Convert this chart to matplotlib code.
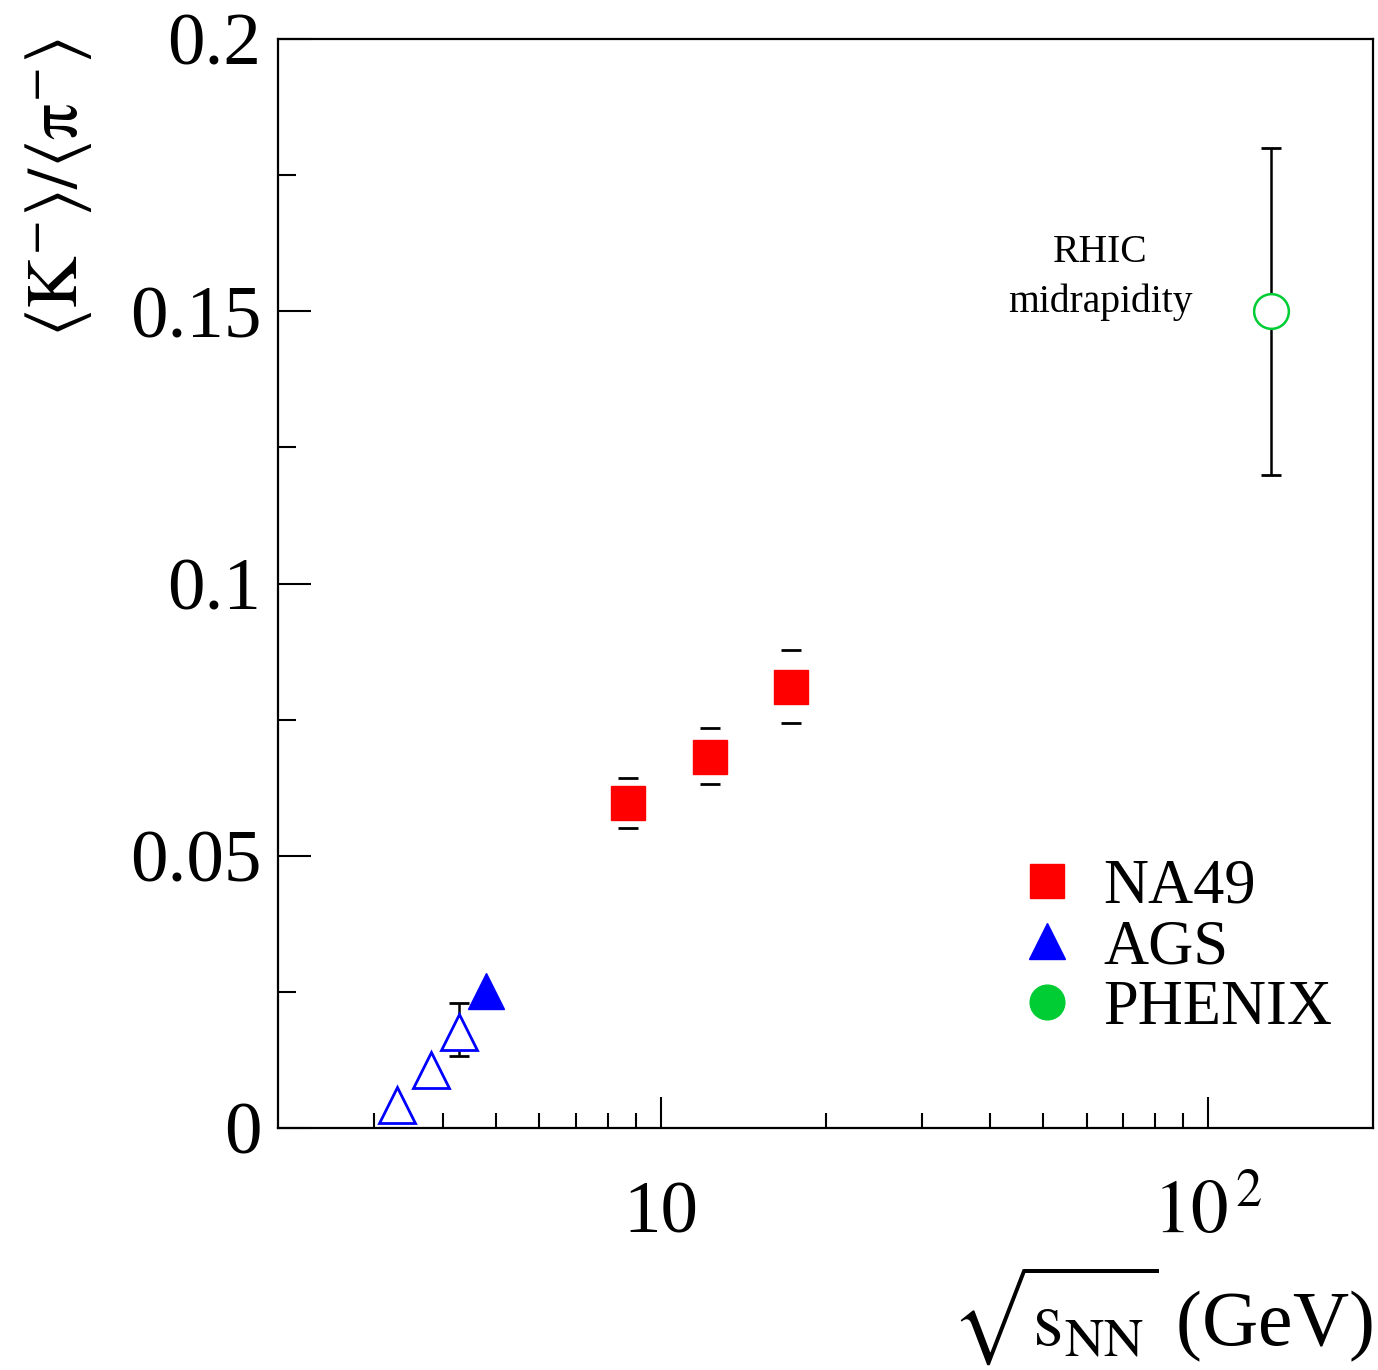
import matplotlib
matplotlib.use("Agg")
import matplotlib.pyplot as plt
from matplotlib.lines import Line2D
from matplotlib.ticker import FixedLocator, FixedFormatter, NullFormatter

plt.rcParams['font.family'] = ['Liberation Serif', 'DejaVu Serif']
plt.rcParams['mathtext.fontset'] = 'stix'

# NA49
na49_x = [8.7, 12.3, 17.3]
na49_y = [0.0597, 0.0681, 0.0810]
na49_lo = [0.0551, 0.0632, 0.0744]
na49_hi = [0.0643, 0.0735, 0.0878]

# AGS open
ags_open_x = [3.3, 3.8, 4.28]
ags_open_y = [0.0042, 0.0107, 0.0176]
ags_err_x = [4.28]
ags_err_y = [0.0176]
ags_err_lo = [0.0132]
ags_err_hi = [0.0230]

# AGS filled
ags_x = [4.8]
ags_y = [0.0252]

# PHENIX
phenix_x = [130.0]
phenix_y = [0.150]
phenix_lo = [0.120]
phenix_hi = [0.180]

legend_labels = ['NA49', 'AGS', 'PHENIX']
red = '#ff0000'
blue = '#0000ff'
green = '#00cc33'

fig = plt.figure(figsize=(13.78, 13.70), dpi=100)
ax = fig.add_axes([278/1378, 242/1370, 1095/1378, 1089/1370])

def yerr(y, lo, hi):
    return [[a - b for a, b in zip(y, lo)], [b - a for a, b in zip(y, hi)]]

# NA49 caps only
ax.errorbar(na49_x, na49_y, yerr=yerr(na49_y, na49_lo, na49_hi), fmt='none',
            ecolor='black', elinewidth=0, capsize=7.2, capthick=2.0, zorder=2)
ax.plot(na49_x, na49_y, 's', color=red, ms=25, mec=red, zorder=3)

ax.errorbar(ags_err_x, ags_err_y, yerr=yerr(ags_err_y, ags_err_lo, ags_err_hi), fmt='none',
            ecolor='black', elinewidth=1.8, capsize=7.2, capthick=2.0, zorder=2)
ax.plot(ags_open_x, ags_open_y, '^', mfc='white', mec=blue, mew=2.0, ms=26, zorder=3)
ax.plot(ags_x, ags_y, '^', color=blue, ms=26, zorder=3)

ax.errorbar(phenix_x, phenix_y, yerr=yerr(phenix_y, phenix_lo, phenix_hi), fmt='none',
            ecolor='black', elinewidth=1.8, capsize=7.2, capthick=2.0, zorder=2)
ax.plot(phenix_x, phenix_y, 'o', mfc='white', mec=green, mew=1.8, ms=25, zorder=3)

ax.text(63.5, 0.1562, 'RHIC\nmidrapidity', ha='center', va='center', fontsize=28.5,
        linespacing=1.45)

ax.set_xscale('log')
ax.set_xlim(2, 200)
ax.set_ylim(0, 0.2)

ax.xaxis.set_major_locator(FixedLocator([10, 100]))
ax.xaxis.set_major_formatter(FixedFormatter(['10', r'$10^{\,2}$']))
ax.xaxis.set_minor_locator(FixedLocator([3, 4, 5, 6, 7, 8, 9, 20, 30, 40, 50, 60, 70, 80, 90]))
ax.xaxis.set_minor_formatter(NullFormatter())
ax.yaxis.set_major_locator(FixedLocator([0, 0.05, 0.1, 0.15, 0.2]))
ax.yaxis.set_major_formatter(FixedFormatter(['0', '0.05', '0.1', '0.15', '0.2']))
ax.yaxis.set_minor_locator(FixedLocator([0.025, 0.075, 0.125, 0.175]))

ax.tick_params(axis='both', which='both', direction='in', top=False, right=False, width=1.5)
ax.tick_params(axis='x', which='major', length=22, labelsize=54, pad=38)
ax.tick_params(axis='x', which='minor', length=11)
ax.tick_params(axis='y', which='major', length=24, labelsize=54, pad=12)
ax.tick_params(axis='y', which='minor', length=13)
for s in ax.spines.values():
    s.set_linewidth(1.6)

ax.set_xlabel(r'$\sqrt{\mathrm{s}_{\mathrm{NN}}}$ (GeV)', fontsize=56, loc='right', labelpad=10)
ax.set_ylabel(r'$\langle\mathrm{K}^{-}\rangle/\langle\mathrm{\pi}^{-}\rangle$', fontsize=52,
              loc='top', labelpad=26)

handles = [Line2D([], [], ls='none', marker='s', color=red, ms=25),
           Line2D([], [], ls='none', marker='^', color=blue, ms=26),
           Line2D([], [], ls='none', marker='o', color=green, ms=25)]
ax.legend(handles, legend_labels, loc='upper left', bbox_to_anchor=(0.645, 0.276),
          frameon=False, fontsize=45, labelspacing=0.04, handletextpad=0.4,
          handlelength=1.0, borderpad=0)

fig.savefig('out.png', dpi=100)
